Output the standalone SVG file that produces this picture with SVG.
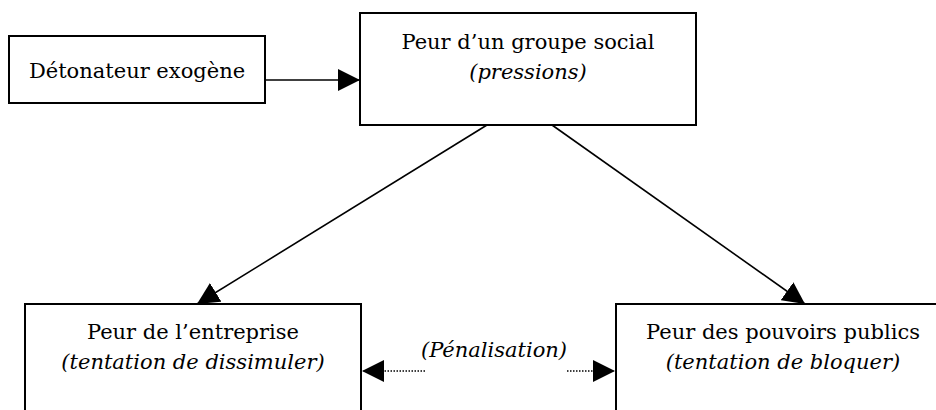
<svg xmlns="http://www.w3.org/2000/svg" width="936" height="410" viewBox="0 0 936 410">
<style>
.box{fill:#fff;stroke:#000;stroke-width:2}
.t{font-family:"DejaVu Serif","Liberation Serif",serif;font-size:21px;fill:#000;text-anchor:middle}
.i{font-style:italic}
.ln{stroke:#000;stroke-width:1.6;fill:none}
.dot{stroke:#000;stroke-width:1.5;stroke-dasharray:1.5 1.5;fill:none}
</style>
<defs>
<marker id="ah" markerUnits="userSpaceOnUse" markerWidth="22" markerHeight="22" viewBox="0 0 20 20" refX="20" refY="10" orient="auto">
<path d="M0,0 L20,10 L0,20 Z" fill="#000"/>
</marker>
</defs>
<g id="n-detonateur">
<rect class="box" x="9" y="36" width="256" height="67"/>
<text class="t" x="137" y="78">Détonateur exogène</text>
</g>
<g id="n-groupe">
<rect class="box" x="360" y="13" width="336" height="112"/>
<text class="t" x="528" y="49">Peur d’un groupe social</text>
<text class="t i" x="528" y="79">(pressions)</text>
</g>
<g id="n-entreprise">
<rect class="box" x="25" y="304" width="336" height="130"/>
<text class="t" x="193" y="339">Peur de l’entreprise</text>
<text class="t i" x="193" y="369">(tentation de dissimuler)</text>
</g>
<g id="n-pouvoirs">
<rect class="box" x="616" y="304" width="336" height="130"/>
<text class="t" x="783" y="339">Peur des pouvoirs publics</text>
<text class="t i" x="783" y="369">(tentation de bloquer)</text>
</g>
<g id="connectors">
<line class="ln" x1="265" y1="80" x2="360" y2="80" marker-end="url(#ah)"/>
<line class="ln" x1="487" y1="125" x2="197" y2="304" marker-end="url(#ah)"/>
<line class="ln" x1="552" y1="125" x2="805" y2="304" marker-end="url(#ah)"/>
<line class="dot" x1="425" y1="371" x2="362" y2="371" marker-end="url(#ah)"/>
<line class="dot" x1="567" y1="371" x2="615" y2="371" marker-end="url(#ah)"/>
<text class="t i" x="494" y="357">(Pénalisation)</text>
</g>
</svg>
